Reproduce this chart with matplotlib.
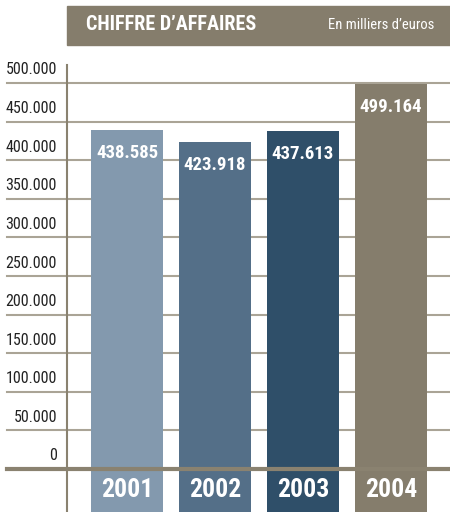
import matplotlib.pyplot as plt
from matplotlib.patches import Rectangle
from matplotlib.transforms import blended_transform_factory

years = ['2001', '2002', '2003', '2004']
ca = [438585, 423918, 437613, 499164]
value_labels = ['438.585', '423.918', '437.613', '499.164']
ticks = [0, 50000, 100000, 150000, 200000, 250000, 300000, 350000, 400000, 450000, 500000]
tick_labels = ['0', '50.000', '100.000', '150.000', '200.000', '250.000', '300.000',
               '350.000', '400.000', '450.000', '500.000']
colors = ['#8399ae', '#546f88', '#2f4f69', '#857d6c']

font = ['Roboto Condensed', 'Liberation Sans Narrow', 'Roboto', 'DejaVu Sans']

W, H = 450, 512
fig = plt.figure(figsize=(W / 100, H / 100), dpi=100)
ax = fig.add_axes([0, 0, 1, 1])
ax.axis('off')

# pixel -> data mapping: bar pitch 88 px, first centre at 127 px, 0.772 px per 1000
px = 88.0
x0 = 127.0
yscale = 0.772 / 1000
ybase = 469.0
ax.set_xlim(-x0 / px, (W - x0) / px)
ax.set_ylim((ybase - H) / yscale, ybase / yscale)
ymin = (ybase - H) / yscale

xs = list(range(len(years)))

# grid lines
for t in ticks[1:]:
    ax.plot([(7 - x0) / px, (W - x0) / px], [t, t], color='#aaa496', lw=1.5, zorder=1)

# vertical axis line
ax.plot([(67 - x0) / px] * 2, [ymin, (ybase - 65) / yscale], color='#8a8270', lw=1.5, zorder=1)

ax.bar(xs, [v - ymin for v in ca], bottom=ymin, width=72 / px, color=colors, zorder=2)

# zero line over the bars
ax.plot([(7 - x0) / px, (W - x0) / px], [0, 0], color='#8a8270', lw=3, zorder=3)

tr = blended_transform_factory(fig.transFigure, ax.transData)
for t, lab in zip(ticks, tick_labels):
    ax.text(57 / W, t + 13 / yscale, lab, transform=tr, ha='right', va='center',
            fontsize=11.5, color='#222222', family=font)

for x, v, lab, yr in zip(xs, ca, value_labels, years):
    ax.text(x, v - 23 / yscale, lab, ha='center', va='center', color='white',
            fontsize=13.5, fontweight='bold', family=font, zorder=4)
    ax.text(x, -21 / yscale, yr, ha='center', va='center', color='white',
            fontsize=18.5, fontweight='bold', family=font, zorder=4)

# title band
fig.patches.append(Rectangle((67 / W, 1 - 45 / H), (W - 67) / W, 39 / H,
                             transform=fig.transFigure, color='#857d6c', zorder=0))
fig.text(86 / W, 1 - 25 / H, 'CHIFFRE D\u2019AFFAIRES', ha='left', va='center',
         color='white', fontsize=14.5, fontweight='bold', family=font)
fig.text(434 / W, 1 - 25 / H, 'En milliers d\u2019euros', ha='right', va='center',
         color='white', fontsize=10.5, family=font)

fig.savefig('out.png', dpi=100)
